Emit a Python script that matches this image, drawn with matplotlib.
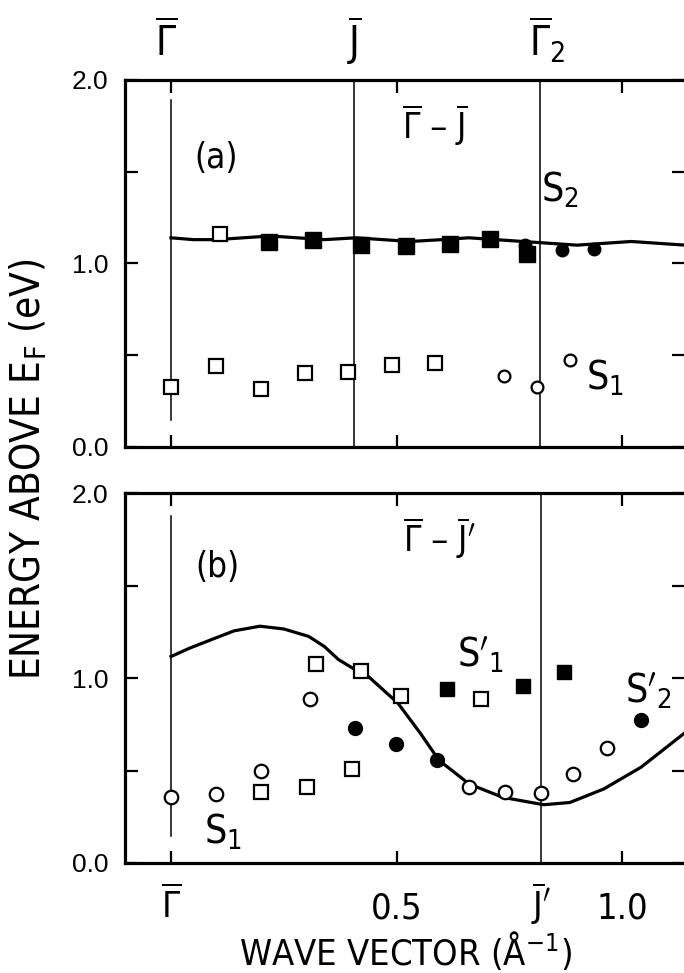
import matplotlib
matplotlib.use("Agg")
import matplotlib.pyplot as plt

# ---- data ----
# panel (a)  Gamma - J
a_curve_x = [0, 0.05, 0.10, 0.16, 0.22, 0.28, 0.34, 0.41, 0.47, 0.53, 0.60, 0.66, 0.72, 0.78, 0.84, 0.90, 0.96, 1.02, 1.08, 1.14]
a_curve_y = [1.14, 1.13, 1.13, 1.14, 1.15, 1.14, 1.13, 1.14, 1.13, 1.12, 1.13, 1.14, 1.13, 1.12, 1.11, 1.10, 1.11, 1.12, 1.11, 1.10]
a_open_sq_x = [0.0, 0.100, 0.108, 0.199, 0.298, 0.393, 0.489, 0.584]
a_open_sq_y = [0.325, 0.439, 1.161, 0.316, 0.401, 0.407, 0.447, 0.456]
a_fill_sq_x = [0.218, 0.315, 0.421, 0.520, 0.619, 0.706, 0.789]
a_fill_sq_y = [1.118, 1.130, 1.103, 1.098, 1.108, 1.134, 1.052]
a_fill_ci_x = [0.785, 0.866, 0.938]
a_fill_ci_y = [1.103, 1.071, 1.080]
a_open_ci_x = [0.737, 0.811, 0.884]
a_open_ci_y = [0.389, 0.325, 0.474]

# panel (b)  Gamma - J'
b_curve_x = [0, 0.04, 0.089, 0.14, 0.197, 0.25, 0.305, 0.34, 0.371, 0.421, 0.437, 0.503, 0.553, 0.594, 0.661, 0.735, 0.826, 0.884, 0.959, 1.042, 1.139]
b_curve_y = [1.116, 1.16, 1.207, 1.255, 1.28, 1.265, 1.225, 1.17, 1.10, 1.026, 1.009, 0.864, 0.70, 0.555, 0.427, 0.355, 0.315, 0.327, 0.40, 0.518, 0.704]
b_open_ci_x = [0.0, 0.100, 0.199, 0.309, 0.661, 0.741, 0.821, 0.891, 0.967]
b_open_ci_y = [0.355, 0.373, 0.500, 0.887, 0.413, 0.385, 0.376, 0.482, 0.622]
b_fill_ci_x = [0.408, 0.499, 0.589, 1.042]
b_fill_ci_y = [0.731, 0.642, 0.555, 0.773]
b_open_sq_x = [0.199, 0.302, 0.402, 0.321, 0.421, 0.510, 0.688]
b_open_sq_y = [0.385, 0.409, 0.509, 1.076, 1.040, 0.904, 0.887]
b_fill_sq_x = [0.611, 0.781, 0.872]
b_fill_sq_y = [0.942, 0.958, 1.031]

k_J = 0.406
k_G2 = 0.818
k_Jp = 0.82

plt.rcParams["font.family"] = ["DejaVu Sans"]
plt.rcParams["font.stretch"] = "condensed"
plt.rcParams["mathtext.fontset"] = "dejavusans"

W, H = 684, 973
fig = plt.figure(figsize=(W / 100, H / 100), dpi=100)
ax_a = fig.add_axes([125 / W, 1 - 447 / H, 1 - 125 / W, (447 - 80) / H])
ax_b = fig.add_axes([125 / W, 1 - 863 / H, 1 - 125 / W, (863 - 493) / H])

for ax in (ax_a, ax_b):
    ax.set_xlim(-0.102, 1.137)
    ax.set_ylim(0, 2.0)
    for s in ("top", "bottom", "left"):
        ax.spines[s].set_linewidth(2.3)
    ax.spines["right"].set_visible(False)
    ax.set_xticks([0, 0.5, 1.0])
    ax.set_yticks([0, 0.5, 1.0, 1.5, 2.0])
    ax.set_yticklabels(["0.0", "", "1.0", "", "2.0"], family="Liberation Sans", fontsize=19)
    ax.tick_params(direction="in", length=9, width=1.6, top=True, right=True,
                   labelbottom=False, pad=12)

mk = dict(linestyle="none", color="black")

# panel (a)
ax_a.plot([0, 0], [0.147, 1.89], color="black", lw=1.1)
ax_a.axvline(k_J, color="black", lw=1.1)
ax_a.axvline(k_G2, color="black", lw=1.1)
ax_a.plot(a_curve_x, a_curve_y, color="black", lw=2.3, zorder=3)
ax_a.plot(a_open_sq_x, a_open_sq_y, marker="s", ms=10, mfc="white", mew=1.6, zorder=4, **mk)
ax_a.plot(a_fill_sq_x, a_fill_sq_y, marker="s", ms=11, zorder=4, **mk)
ax_a.plot(a_fill_ci_x, a_fill_ci_y, marker="o", ms=9, zorder=4, **mk)
ax_a.plot(a_open_ci_x, a_open_ci_y, marker="o", ms=8.5, mfc="white", mew=1.6, zorder=4, **mk)

ax_a.text(0.10, 1.575, "(a)", fontsize=25, ha="center", va="center")
ax_a.text(0.585, 1.755, r"$\overline{\Gamma}$ – $\overline{\mathrm{J}}$", fontsize=25, ha="center", va="center")
ax_a.text(0.862, 1.40, r"S$_2$", fontsize=28, ha="center", va="center")
ax_a.text(0.962, 0.376, r"S$_1$", fontsize=28, ha="center", va="center")

tr = ax_a.get_xaxis_transform()
ax_a.text(-0.012, 1.065, r"$\overline{\Gamma}$", transform=tr, fontsize=29, ha="center", va="baseline")
ax_a.text(k_J, 1.065, r"$\overline{\mathrm{J}}$", transform=tr, fontsize=29, ha="center", va="baseline")
ax_a.text(k_G2 + 0.015, 1.065, r"$\overline{\Gamma}_2$", transform=tr, fontsize=29, ha="center", va="baseline")

# panel (b)
ax_b.plot([0, 0], [0.145, 1.876], color="black", lw=1.1)
ax_b.axvline(k_Jp, color="black", lw=1.1)
ax_b.plot(b_curve_x, b_curve_y, color="black", lw=2.3, zorder=3)
ax_b.plot(b_open_ci_x, b_open_ci_y, marker="o", ms=9.7, mfc="white", mew=1.6, zorder=4, **mk)
ax_b.plot(b_fill_ci_x, b_fill_ci_y, marker="o", ms=10, zorder=4, **mk)
ax_b.plot(b_open_sq_x, b_open_sq_y, marker="s", ms=9.7, mfc="white", mew=1.6, zorder=4, **mk)
ax_b.plot(b_fill_sq_x, b_fill_sq_y, marker="s", ms=10, zorder=4, **mk)

ax_b.text(0.102, 1.60, "(b)", fontsize=25, ha="center", va="center")
ax_b.text(0.594, 1.76, r"$\overline{\Gamma}$ – $\overline{\mathrm{J}}'$", fontsize=25, ha="center", va="center")
ax_b.text(0.685, 1.125, r"$\mathrm{S}'_1$", fontsize=28, ha="center", va="center")
ax_b.text(1.058, 0.93, r"$\mathrm{S}'_2$", fontsize=28, ha="center", va="center")
ax_b.text(0.114, 0.168, r"S$_1$", fontsize=28, ha="center", va="center")

trb = ax_b.get_xaxis_transform()
for xv, lab in [(0, r"$\overline{\Gamma}$"), (0.5, "0.5"), (k_Jp, r"$\overline{\mathrm{J}}'$"), (1.0, "1.0")]:
    ax_b.text(xv, -0.149, lab, transform=trb, fontsize=26, ha="center", va="baseline")

fig.text(405 / W, 1 - 950 / H, r"WAVE VECTOR ($\mathrm{\AA}^{-1}$)", fontsize=26, ha="center", va="center")
fig.text(29 / W, 1 - 469 / H, r"ENERGY ABOVE E$_\mathrm{F}$ (eV)", fontsize=29, rotation=90, ha="center", va="center")

fig.savefig("out.png", dpi=100)
